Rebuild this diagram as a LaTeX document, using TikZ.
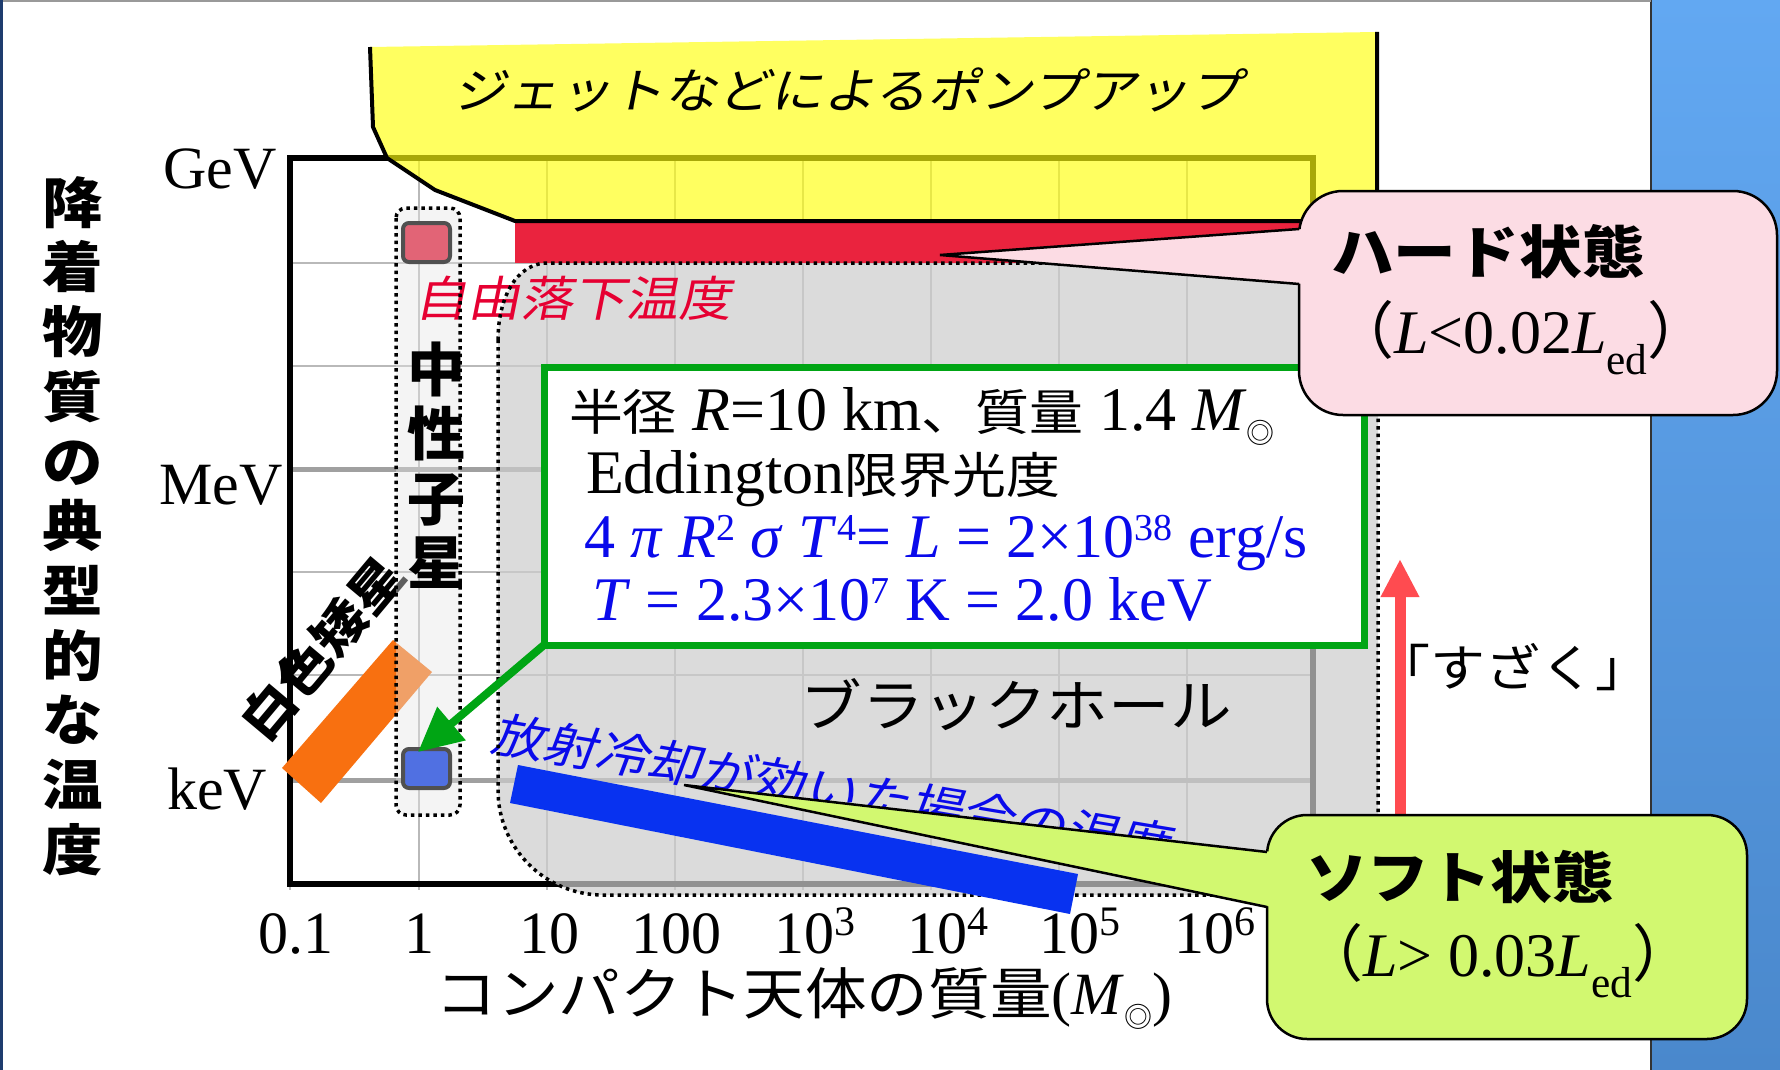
\documentclass[tikz,border=0pt]{standalone}
\usepackage{fontspec}
\setmainfont{Liberation Serif}
\newfontfamily\cjk[FakeStretch=1.1]{Noto Sans CJK JP}
\newfontfamily\cjkn{Noto Sans CJK JP}
\newfontfamily\cjksl[FakeStretch=1.1,FakeSlant=0.2]{Noto Sans CJK JP}
\usetikzlibrary{arrows.meta}

\definecolor{stripTop}{RGB}{98,168,242}
\definecolor{stripBot}{RGB}{74,136,204}
\definecolor{frameBlue}{RGB}{30,60,110}
\definecolor{gridThin}{RGB}{185,185,185}
\definecolor{gridThick}{RGB}{160,160,160}
\definecolor{wdOrange}{RGB}{248,112,16}
\definecolor{nsGray}{RGB}{229,229,229}
\definecolor{bhGray}{RGB}{205,205,205}
\definecolor{barRed}{RGB}{234,35,62}
\definecolor{jetYellow}{RGB}{255,255,14}
\definecolor{sqRed}{RGB}{226,100,118}
\definecolor{sqBlue}{RGB}{80,112,226}
\definecolor{sqEdge}{RGB}{80,80,80}
\definecolor{txtRed}{RGB}{230,0,50}
\definecolor{txtBlue}{RGB}{10,10,235}
\definecolor{barBlue}{RGB}{8,50,240}
\definecolor{boxGreen}{RGB}{0,165,20}
\definecolor{hardPink}{RGB}{252,220,228}
\definecolor{softGreen}{RGB}{210,248,112}
\definecolor{arrowRed}{RGB}{255,75,80}

\newcommand\Msun{\textit{M}\raisebox{-13pt}{\cjkn\fontsize{28}{28}\selectfont ◎}}
% superscripts: tick labels (60pt) and box text (62pt)
\newcommand\supT[1]{\raisebox{18pt}{\fontsize{42}{42}\selectfont #1}}
\newcommand\supB[1]{\raisebox{17pt}{\fontsize{38}{38}\selectfont #1}}

\tikzset{
  dotline/.style={line width=3.5, dash pattern=on 3.5pt off 4pt},
  thingrid/.style={gridThin, line width=2},
  thickgrid/.style={gridThick, line width=5},
  sqbox/.style={draw=sqEdge, line width=4, rounded corners=6, minimum width=47, minimum height=39},
  calloutbox/.style={draw=black, line width=2.5, rounded corners=44},
  latin/.style={font=\fontsize{60}{66}\selectfont},
  boxtext/.style={anchor=base west, font=\fontsize{62}{62}\selectfont},
}

\begin{document}
\begin{tikzpicture}[x=1pt,y=-1pt,every node/.style={inner sep=0pt,outer sep=0pt}]
\useasboundingbox (0,0) rectangle (1780,1070);
% background
\fill[white] (0,0) rectangle (1780,1070);
\shade[top color=stripTop,bottom color=stripBot] (1651,0) rectangle (1780,1070);
\draw[line width=2.5,black!80] (1651,0) -- (1651,1070);
\draw[line width=2,black!40] (0,1) -- (1651,1);
\fill[frameBlue] (0,0) rectangle (3,1070);

% grid and frame
\foreach \gx in {419,547,675,803,931,1059,1187} \draw[thingrid] (\gx,158) -- (\gx,890);
\draw[thingrid] (290,884) -- (290,890);
\foreach \gy in {263,366,572,675} \draw[thingrid] (290,\gy) -- (1313,\gy);
\draw[thickgrid] (290,469) -- (1313,469);
\draw[thickgrid] (290,780) -- (1313,780);
\draw[line width=6] (290,158) rectangle (1313,884);

% white dwarf
\fill[wdOrange] (282,768) -- (393,640) -- (432,672) -- (321,803) -- cycle;
\node[rotate=50,font=\cjk\bfseries\fontsize{50}{50}\selectfont] (wdlabel) at (322,648) {白色矮星};

% neutron star column and black hole region fills
\fill[nsGray,fill opacity=0.41,rounded corners=10] (396,208) rectangle (460,815);
\fill[bhGray,fill opacity=0.71] (498,340) .. controls (498,300) and (515,263) .. (548,263) -- (1378,263) -- (1378,835) .. controls (1378,868) and (1351,895) .. (1318,895) -- (603,895) .. controls (545,895) and (498,848) .. (498,790) -- cycle;

% red bar and yellow region
\fill[barRed] (515,221) rectangle (1310,263);
\fill[jetYellow,fill opacity=0.66] (370,47) -- (1377,32) -- (1377,221) -- (515,221) -- (435,190) -- (387,158) -- (373,127) -- cycle;
\draw[line width=4,line join=round] (370,47) -- (373,127) -- (387,158) -- (435,190) -- (515,221) -- (1377,221) -- (1377,32);

% texts in the plot
\node[font=\cjksl\fontsize{48}{48}\selectfont,text=txtRed] (fftemp) at (573,298) {自由落下温度};
\node[font=\cjkn\bfseries\fontsize{58}{64.5}\selectfont,align=center] (nslabel) at (436,465) {中\\性\\子\\星};
\node[font=\cjk\fontsize{56}{56}\selectfont] (bhlabel) at (1016,705) {ブラックホール};
\node[font=\cjksl\fontsize{48}{48}\selectfont,text=txtBlue,rotate=-9.5] (coollabel) at (831,789) {放射冷却が効いた場合の温度};
\node[font=\cjksl\fontsize{48}{48}\selectfont] (jetlabel) at (848,90) {ジェットなどによるポンプアップ};

% dotted outlines
\draw[dotline,rounded corners=10] (396,208) rectangle (460,815);
\draw[dotline] (498,340) .. controls (498,300) and (515,263) .. (548,263) -- (1378,263) -- (1378,835) .. controls (1378,868) and (1351,895) .. (1318,895) -- (603,895) .. controls (545,895) and (498,848) .. (498,790) -- cycle;

% squares
\node[sqbox,fill=sqRed] (nsred) at (426.5,242.5) {};
\node[sqbox,fill=sqBlue] (nsblue) at (426.5,768.5) {};

% blue bar
\fill[barBlue] (518,765) -- (1078,874) -- (1070,914) -- (510,803) -- cycle;

% Eddington box
\node[draw=boxGreen,line width=7,fill=white,minimum width=820,minimum height=278] (eddbox) at (954,506) {};
\node[boxtext] (eddl1) at (569,430) {{\cjk\fontsize{49}{49}\selectfont 半径} \textit{R}=10 km{\cjk\fontsize{49}{49}\selectfont 、質量} 1.4 \Msun};
\node[boxtext] (eddl2) at (586,493) {Eddington{\cjk\fontsize{49}{49}\selectfont 限界光度}};
\node[boxtext,text=txtBlue] (eddl3) at (584,557) {4 \textit{π} \textit{R}\supB{2} \textit{σ} \textit{T}\supB{4}= \textit{L} = 2×10\supB{38} erg/s};
\node[boxtext,text=txtBlue] (eddl4) at (592,620) {\textit{T} = 2.3×10\supB{7} K = 2.0 keV};
\coordinate (gtip) at (418,752);
\draw[boxGreen,line width=8,-{Triangle[length=44pt,width=42pt]}] (eddbox.south west) -- (gtip);

% hard state callout
\node[calloutbox,fill=hardPink,minimum width=478,minimum height=224] (hardbox) at (1538,303) {};
\coordinate (hardtip) at (940,255);
\fill[hardPink] (1304,229) -- (hardtip) -- (1304,284) -- cycle;
\draw[line width=2.5] (1299,229) -- (hardtip) -- (1299,284);
\node[font=\cjk\bfseries\fontsize{57}{57}\selectfont] (hardtitle) at (1488,252) {ハード状態};
\node[anchor=base,font=\fontsize{62}{62}\selectfont] (hardcond) at (1521,353) {{\cjkn （}\textit{L}<0.02\textit{L}\textsubscript{ed}{\cjkn ）}};

% red arrow
\coordinate (rtail) at (1400,840);
\coordinate (rtip) at (1400,559);
\draw[arrowRed,line width=11,-{Triangle[length=38pt,width=36pt]}] (rtail) -- (rtip);
\node[font=\cjk\fontsize{50}{50}\selectfont] (suzaku) at (1513,667) {「すざく」};

% soft state callout
\node[calloutbox,fill=softGreen,minimum width=480,minimum height=224,rounded corners=40] (softbox) at (1507,927) {};
\coordinate (softtip) at (684,785);
\fill[softGreen] (1272,852) -- (softtip) -- (1272,907) -- cycle;
\draw[line width=2.5] (1267,852) -- (softtip) -- (1267,907);
\node[font=\cjk\bfseries\fontsize{56}{56}\selectfont] (softtitle) at (1460,877) {ソフト状態};
\node[anchor=base,font=\fontsize{62}{62}\selectfont] (softcond) at (1498,976) {{\cjkn （}\textit{L}> 0.03\textit{L}\textsubscript{ed}{\cjkn ）}};

% axis labels
\node[font=\cjk\bfseries\fontsize{55}{64.7}\selectfont,align=center] (ylabel) at (73,526) {降\\着\\物\\質\\の\\典\\型\\的\\な\\温\\度};
\node[latin,anchor=base] (gev) at (220,188) {GeV};
\node[latin,anchor=base] (mev) at (221,504) {MeV};
\node[latin,anchor=base] (kev) at (217,809) {keV};
\node[latin,anchor=base] (t01) at (296,953) {0.1};
\node[latin,anchor=base] (t1) at (419,953) {1};
\node[latin,anchor=base] (t10) at (549,953) {10};
\node[latin,anchor=base] (t100) at (676,953) {100};
\node[latin,anchor=base] (t1e3) at (815,953) {10\supT{3}};
\node[latin,anchor=base] (t1e4) at (948,953) {10\supT{4}};
\node[latin,anchor=base] (t1e5) at (1080,953) {10\supT{5}};
\node[latin,anchor=base] (t1e6) at (1215,953) {10\supT{6}};
\node[latin,anchor=base] (xlabel) at (804,1014) {{\cjk\fontsize{56}{56}\selectfont コンパクト天体の質量}(\Msun)};
\end{tikzpicture}
\end{document}
